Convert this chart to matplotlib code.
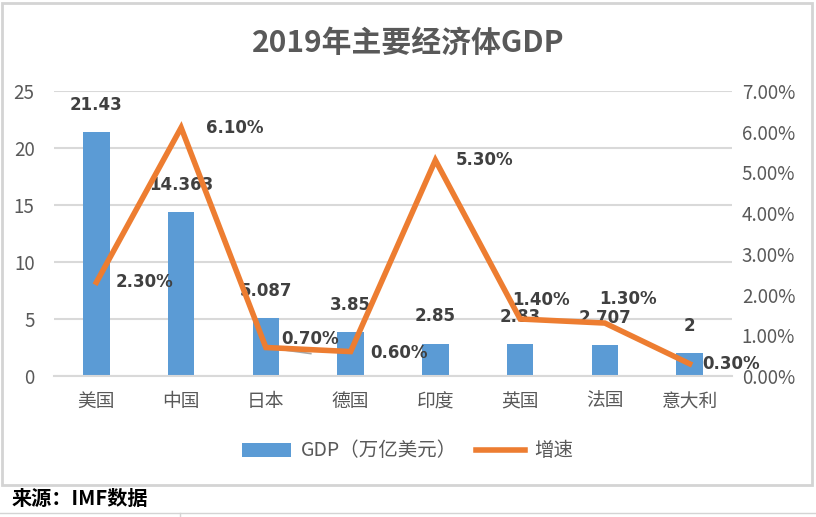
import numpy as np
import matplotlib.pyplot as plt
from matplotlib.lines import Line2D
from matplotlib.patches import Rectangle

plt.rcParams['font.family'] = ['Noto Sans CJK SC', 'DejaVu Sans']

# 数据
countries = ['美国', '中国', '日本', '德国', '印度', '英国', '法国', '意大利']
gdp = [21.43, 14.363, 5.087, 3.85, 2.85, 2.83, 2.707, 2]
gdp_labels = ['21.43', '14.363', '5.087', '3.85', '2.85', '2.83', '2.707', '2']
growth = [2.30, 6.10, 0.70, 0.60, 5.30, 1.40, 1.30, 0.30]
growth_labels = ['2.30%', '6.10%', '0.70%', '0.60%', '5.30%', '1.40%', '1.30%', '0.30%']

W, H = 816, 517
fig = plt.figure(figsize=(W / 100, H / 100), dpi=100)
fig.patch.set_facecolor('white')

# 单元格边框
grey = '#d4d4d4'
fig.add_artist(Rectangle((2 / W, 1 - 485 / H), 810 / W, 482 / H, transform=fig.transFigure,
                         fill=False, edgecolor=grey, linewidth=2))
fig.add_artist(Line2D([0, 1], [1 - 513 / H] * 2, transform=fig.transFigure, color=grey, lw=1))
fig.add_artist(Line2D([180 / W] * 2, [1 - 513 / H, 0], transform=fig.transFigure, color=grey, lw=1))

left, right, top, bottom = 54, 732, 91, 376
ax = fig.add_axes([left / W, 1 - bottom / H, (right - left) / W, (bottom - top) / H])
ax2 = ax.twinx()

x = np.arange(len(countries))
bars = ax.bar(x, gdp, width=0.31, color='#5b9bd5', zorder=2, label='GDP（万亿美元）')
ax.set_ylim(0, 25)
ax.set_yticks(range(0, 26, 5))
ax.set_xlim(-0.5, len(countries) - 0.5)
ax.set_xticks(x)
ax.set_xticklabels(countries, fontsize=13.5, color='#595959')
ax.tick_params(axis='both', length=0, labelcolor='#595959')
ax.tick_params(axis='y', labelsize=13.5, pad=14)
ax.tick_params(axis='x', pad=11)
ax.grid(axis='y', color='#d9d9d9', linewidth=1.5, zorder=0)
for s in ax.spines.values():
    s.set_visible(False)
ax.spines['bottom'].set_visible(True)
ax.spines['bottom'].set_color('#d9d9d9')
ax.spines['bottom'].set_linewidth(1.5)

g = np.array(growth) / 100
line, = ax2.plot(x, g, color='#ed7d31', linewidth=4, solid_joinstyle='miter', zorder=3, label='增速')
ax2.set_ylim(0, 0.07)
ax2.set_yticks(np.arange(0, 0.0701, 0.01))
ax2.set_yticklabels([f'{v:.2f}%' for v in np.arange(0, 7.01, 1)])
ax2.tick_params(axis='y', length=0, labelsize=13.5, labelcolor='#595959', pad=7)
for s in ax2.spines.values():
    s.set_visible(False)

lbl = dict(fontsize=12, fontweight='bold', color='#404040', family=['DejaVu Sans'])
# 柱子标签
for xi, v, t in zip(x, gdp, gdp_labels):
    ax.annotate(t, (xi, v), xytext=(0, 13), textcoords='offset points',
                ha='center', va='bottom', **lbl)

# 增速标签（手动偏移）
offsets = [(14, 0), (18, 0), (11, 6), (14, -1), (15, 0), (-6, 14), (-4, 17), (9, 0)]
for xi, v, t, (dx, dy) in zip(x, g, growth_labels, offsets):
    ax2.annotate(t, (xi, v), xytext=(dx, dy), textcoords='offset points',
                 ha='left', va='center', **lbl)
# 日本标签引导线
ax2.plot([x[2], x[2] + 0.53], [g[2], g[2] - 0.0015], color='#a6a6a6', lw=1.2, zorder=2.5)

fig.legend(handles=[bars, line], loc='center', bbox_to_anchor=(0.5, 1 - 451 / H),
           ncol=2, frameon=False, fontsize=14, labelcolor='#595959',
           handlelength=2.5, columnspacing=1.0, handletextpad=0.5)

fig.text(0.5, 1 - 43 / H, '2019年主要经济体GDP', ha='center', va='center',
         fontsize=21.5, fontweight='bold', color='#595959')
fig.text(12 / W, 1 - 498 / H, '来源：IMF数据', ha='left', va='center',
         fontsize=14.5, fontweight='bold', color='black')

fig.savefig('out.png', dpi=100, facecolor='white')
